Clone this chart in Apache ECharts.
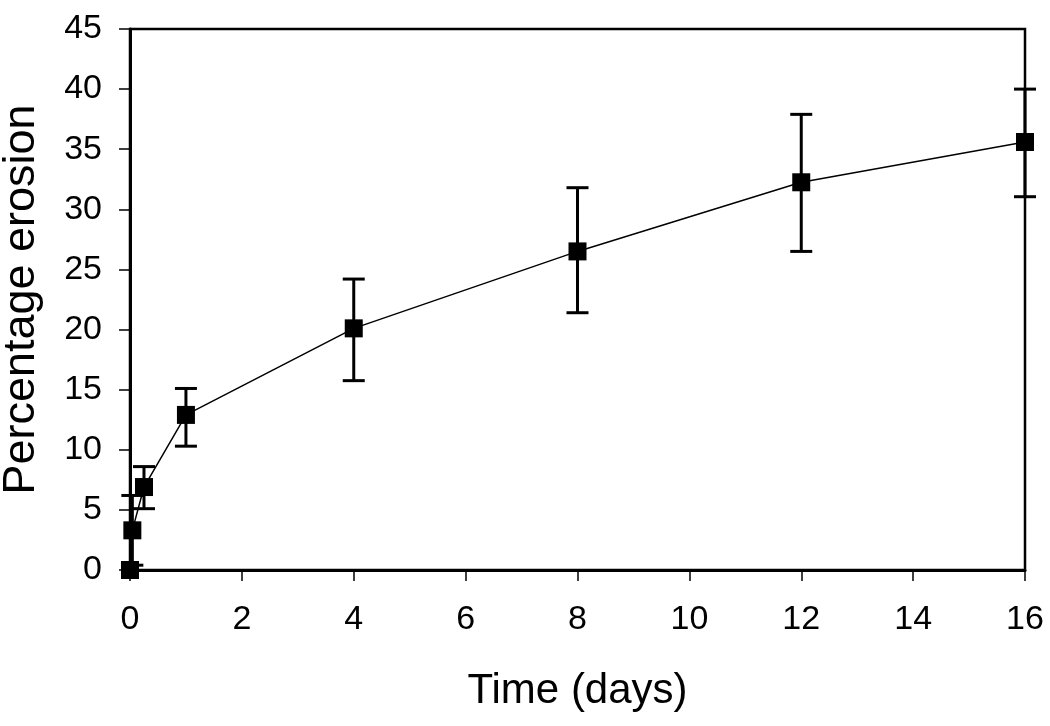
<!DOCTYPE html>
<html>
<head>
<meta charset="utf-8">
<script src="https://cdn.jsdelivr.net/npm/echarts@6/dist/echarts.min.js"></script>
<style>html,body{margin:0;padding:0;background:#fff}#c{width:1050px;height:726px}</style>
</head>
<body>
<div id="c"></div>
<script>
var timeDays = [0, 0.042, 0.25, 1, 4, 8, 12, 16];
var erosion = [0, 3.3, 6.9, 12.9, 20.1, 26.5, 32.25, 35.6];
var errLow = [0, 0.4, 5.1, 10.3, 15.75, 21.4, 26.5, 31.05];
var errHigh = [0, 6.2, 8.6, 15.1, 24.2, 31.8, 37.9, 40.0];
var xTicks = [0, 2, 4, 6, 8, 10, 12, 14, 16];
var yTicks = [0, 5, 10, 15, 20, 25, 30, 35, 40, 45];

var font = '"Liberation Sans", Arial, Helvetica, sans-serif';
var lineData = timeDays.map(function (t, i) { return [t, erosion[i]]; });
var errData = [];
timeDays.forEach(function (t, i) {
  if (errHigh[i] > errLow[i]) errData.push([t, errLow[i], errHigh[i]]);
});

var chart = echarts.init(document.getElementById('c'), null, { renderer: 'canvas' });
chart.setOption({
  backgroundColor: '#fff',
  animation: false,
  grid: { left: 130, right: 25, top: 29, bottom: 156, containLabel: false, outerBoundsMode: 'none', show: true, borderColor: '#000', borderWidth: 2.5, backgroundColor: 'transparent' },
  xAxis: {
    type: 'value', min: xTicks[0], max: xTicks[xTicks.length - 1], interval: 2,
    name: 'Time (days)', nameLocation: 'middle', nameGap: 100,
    nameTextStyle: { fontFamily: font, fontSize: 42, color: '#000' },
    axisLine: { show: true, onZero: false, lineStyle: { color: '#000', width: 3 } },
    axisTick: { show: true, inside: false, length: 11, lineStyle: { color: '#000', width: 1.5 } },
    axisLabel: { fontFamily: font, fontSize: 34, color: '#000', margin: 33 },
    splitLine: { show: false }
  },
  yAxis: {
    type: 'value', min: yTicks[0], max: yTicks[yTicks.length - 1], interval: 5,
    name: 'Percentage erosion', nameLocation: 'middle', nameGap: 86,
    nameTextStyle: { fontFamily: font, fontSize: 45, color: '#000' },
    axisLine: { show: true, onZero: false, lineStyle: { color: '#000', width: 3 } },
    axisTick: { show: true, inside: false, length: 11, lineStyle: { color: '#000', width: 1.5 } },
    axisLabel: { fontFamily: font, fontSize: 34, color: '#000', margin: 28 },
    splitLine: { show: false }
  },
  series: [
    {
      type: 'custom',
      z: 2,
      data: errData,
      renderItem: function (params, api) {
        var x = api.value(0);
        var lo = api.coord([x, api.value(1)]);
        var hi = api.coord([x, api.value(2)]);
        var hw = 11;
        var st = { stroke: '#000', lineWidth: 3 };
        return {
          type: 'group',
          children: [
            { type: 'line', shape: { x1: lo[0], y1: lo[1], x2: hi[0], y2: hi[1] }, style: st },
            { type: 'line', shape: { x1: hi[0] - hw, y1: hi[1], x2: hi[0] + hw, y2: hi[1] }, style: st },
            { type: 'line', shape: { x1: lo[0] - hw, y1: lo[1], x2: lo[0] + hw, y2: lo[1] }, style: st }
          ]
        };
      }
    },
    {
      type: 'line',
      z: 3,
      data: lineData,
      symbol: 'rect',
      symbolSize: 18,
      lineStyle: { color: '#000', width: 1.5 },
      itemStyle: { color: '#000' }
    }
  ]
});
</script>
</body>
</html>
